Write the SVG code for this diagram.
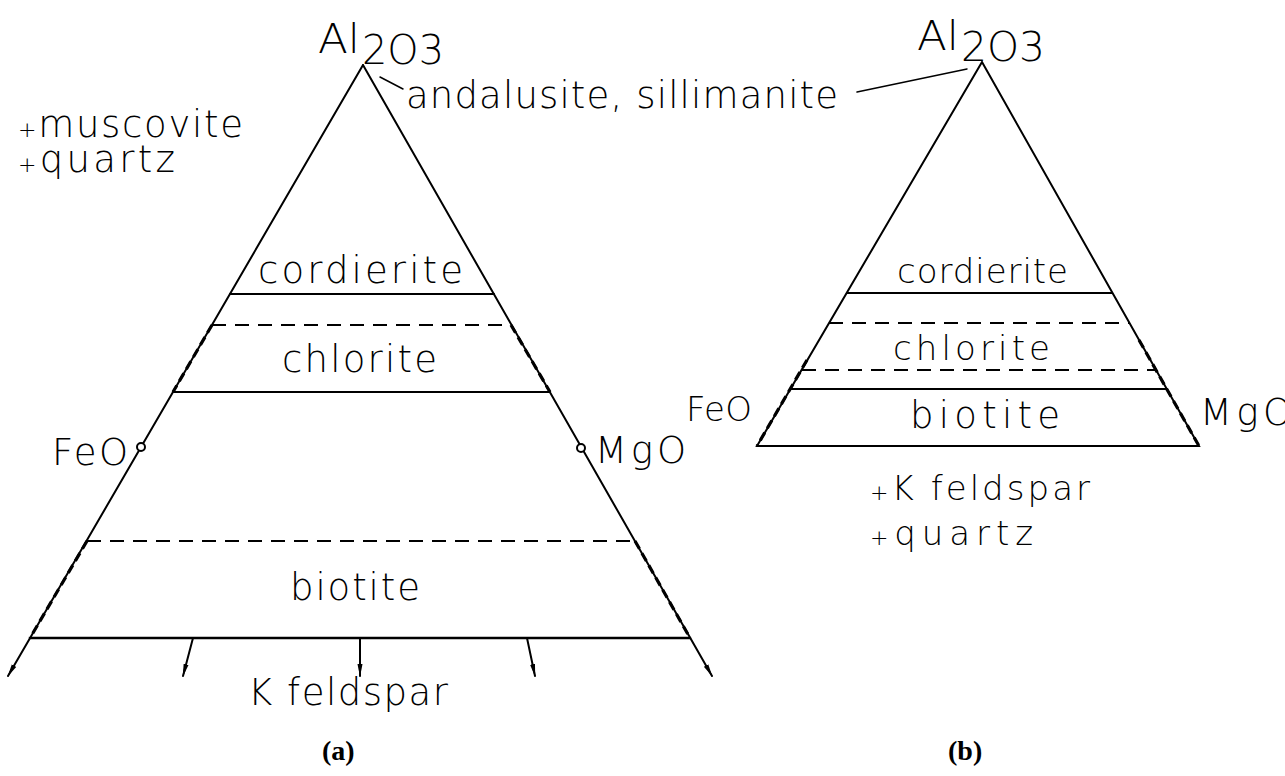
<svg xmlns="http://www.w3.org/2000/svg" width="1285" height="776" viewBox="0 0 1285 776">
<style>
.e{stroke:#000;stroke-width:2;fill:none;stroke-linecap:round}
.d{stroke:#000;stroke-width:2;fill:none;stroke-dasharray:14 9}
.dd{stroke:#000;stroke-width:3.2;fill:none;stroke-dasharray:9 5}
.t{font-family:"DejaVu Sans","Liberation Sans",sans-serif;font-weight:200;font-size:37px;fill:#000}
.r{font-size:34px}
.s{font-family:"DejaVu Sans","Liberation Sans",sans-serif;font-weight:200;font-size:40px;fill:#000}
.p{font-size:22px}
.c{font-family:"Liberation Serif",serif;font-weight:bold;font-size:28px;fill:#000}
</style>
<defs>
<marker id="ah" markerWidth="14" markerHeight="8" refX="12" refY="4" orient="auto" markerUnits="userSpaceOnUse">
<path d="M0,1.5 L13,4 L0,6.5 Z" fill="#000"/>
</marker>
</defs>
<rect width="1285" height="776" fill="#fff"/>

<g id="connectors">
<line class="e" x1="363" y1="65" x2="8" y2="676" marker-end="url(#ah)"/>
<line class="e" x1="363" y1="65" x2="712" y2="676" marker-end="url(#ah)"/>
<line class="e" x1="230" y1="294" x2="494" y2="294"/>
<line class="d" x1="212" y1="325" x2="511" y2="325"/>
<line class="e" x1="173" y1="392" x2="550" y2="392"/>
<line class="d" x1="87" y1="541" x2="635" y2="541"/>
<line class="e" x1="30" y1="638" x2="690" y2="638" style="stroke-width:2.5"/>
<line class="dd" x1="212" y1="325" x2="173" y2="392"/>
<line class="dd" x1="511" y1="325" x2="550" y2="392"/>
<line class="dd" x1="87" y1="541" x2="30" y2="638"/>
<line class="dd" x1="635" y1="541" x2="690" y2="638"/>
<line class="e" x1="193" y1="638" x2="183" y2="676" marker-end="url(#ah)"/>
<line class="e" x1="360" y1="638" x2="360" y2="676" marker-end="url(#ah)"/>
<line class="e" x1="527" y1="638" x2="535" y2="676" marker-end="url(#ah)"/>
<line class="e" x1="380" y1="77" x2="403" y2="89" style="stroke-width:1.5"/>
<path class="e" d="M982,62 L757,446 L1199,446 Z" style="stroke-linejoin:miter"/>
<line class="e" x1="847" y1="293" x2="1112" y2="293"/>
<line class="d" x1="829" y1="323" x2="1129" y2="323"/>
<line class="d" x1="802" y1="370" x2="1156" y2="370"/>
<line class="e" x1="790" y1="389" x2="1167" y2="389"/>
<line class="dd" x1="807" y1="360" x2="757" y2="446"/>
<line class="dd" x1="1139" y1="340" x2="1199" y2="446"/>
<line class="e" x1="857" y1="92" x2="967" y2="69" style="stroke-width:1.5"/>
</g>

<g id="points">
<circle cx="141" cy="447" r="4" fill="#fff" stroke="#000" stroke-width="2"/>
<circle cx="581" cy="448" r="4" fill="#fff" stroke="#000" stroke-width="2"/>
</g>

<g id="node-a-al2o3">
<text class="s" x="318" y="53" textLength="42" lengthAdjust="spacingAndGlyphs">Al</text>
<text class="s" x="362" y="64" textLength="82" lengthAdjust="spacingAndGlyphs">2O3</text>
</g>
<g id="node-andalusite"><text class="t" x="406" y="108" textLength="432" lengthAdjust="spacing">andalusite, sillimanite</text></g>
<g id="node-muscovite">
<text class="t" x="18" y="137" textLength="225" lengthAdjust="spacing"><tspan class="p">+</tspan>muscovite</text>
<text class="t" x="18" y="172" textLength="157" lengthAdjust="spacing"><tspan class="p">+</tspan>quartz</text>
</g>
<g id="node-a-cordierite"><text class="t" x="258" y="283" textLength="205" lengthAdjust="spacing">cordierite</text></g>
<g id="node-a-chlorite"><text class="t" x="282" y="372" textLength="155" lengthAdjust="spacing">chlorite</text></g>
<g id="node-a-biotite"><text class="t" x="290" y="600" textLength="130" lengthAdjust="spacing">biotite</text></g>
<g id="node-a-feo"><text class="t" x="52" y="465" textLength="76" lengthAdjust="spacing">FeO</text></g>
<g id="node-a-mgo"><text class="t" x="595" y="463" textLength="91" lengthAdjust="spacing">MgO</text></g>
<g id="node-a-kfeldspar"><text class="t" x="248" y="705" textLength="200" lengthAdjust="spacing">K feldspar</text></g>
<g id="label-a"><text class="c" x="322" y="760">(a)</text></g>

<g id="node-b-al2o3">
<text class="s" x="917" y="50" textLength="42" lengthAdjust="spacingAndGlyphs">Al</text>
<text class="s" x="961" y="61" textLength="84" lengthAdjust="spacingAndGlyphs">2O3</text>
</g>
<g id="node-b-cordierite"><text class="t r" x="897" y="283" textLength="171" lengthAdjust="spacing">cordierite</text></g>
<g id="node-b-chlorite"><text class="t r" x="893" y="360" textLength="157" lengthAdjust="spacing">chlorite</text></g>
<g id="node-b-biotite"><text class="t" x="910" y="428" textLength="150" lengthAdjust="spacing">biotite</text></g>
<g id="node-b-feo"><text class="t r" x="686" y="421" textLength="66" lengthAdjust="spacing">FeO</text></g>
<g id="node-b-mgo"><text class="t" x="1200" y="425" textLength="92" lengthAdjust="spacing">MgO</text></g>
<g id="node-b-kfeldspar">
<text class="t r" x="870" y="500" textLength="220" lengthAdjust="spacing"><tspan class="p">+</tspan>K feldspar</text>
<text class="t r" x="870" y="545" textLength="163" lengthAdjust="spacing"><tspan class="p">+</tspan>quartz</text>
</g>
<g id="label-b"><text class="c" x="948" y="760">(b)</text></g>
</svg>
